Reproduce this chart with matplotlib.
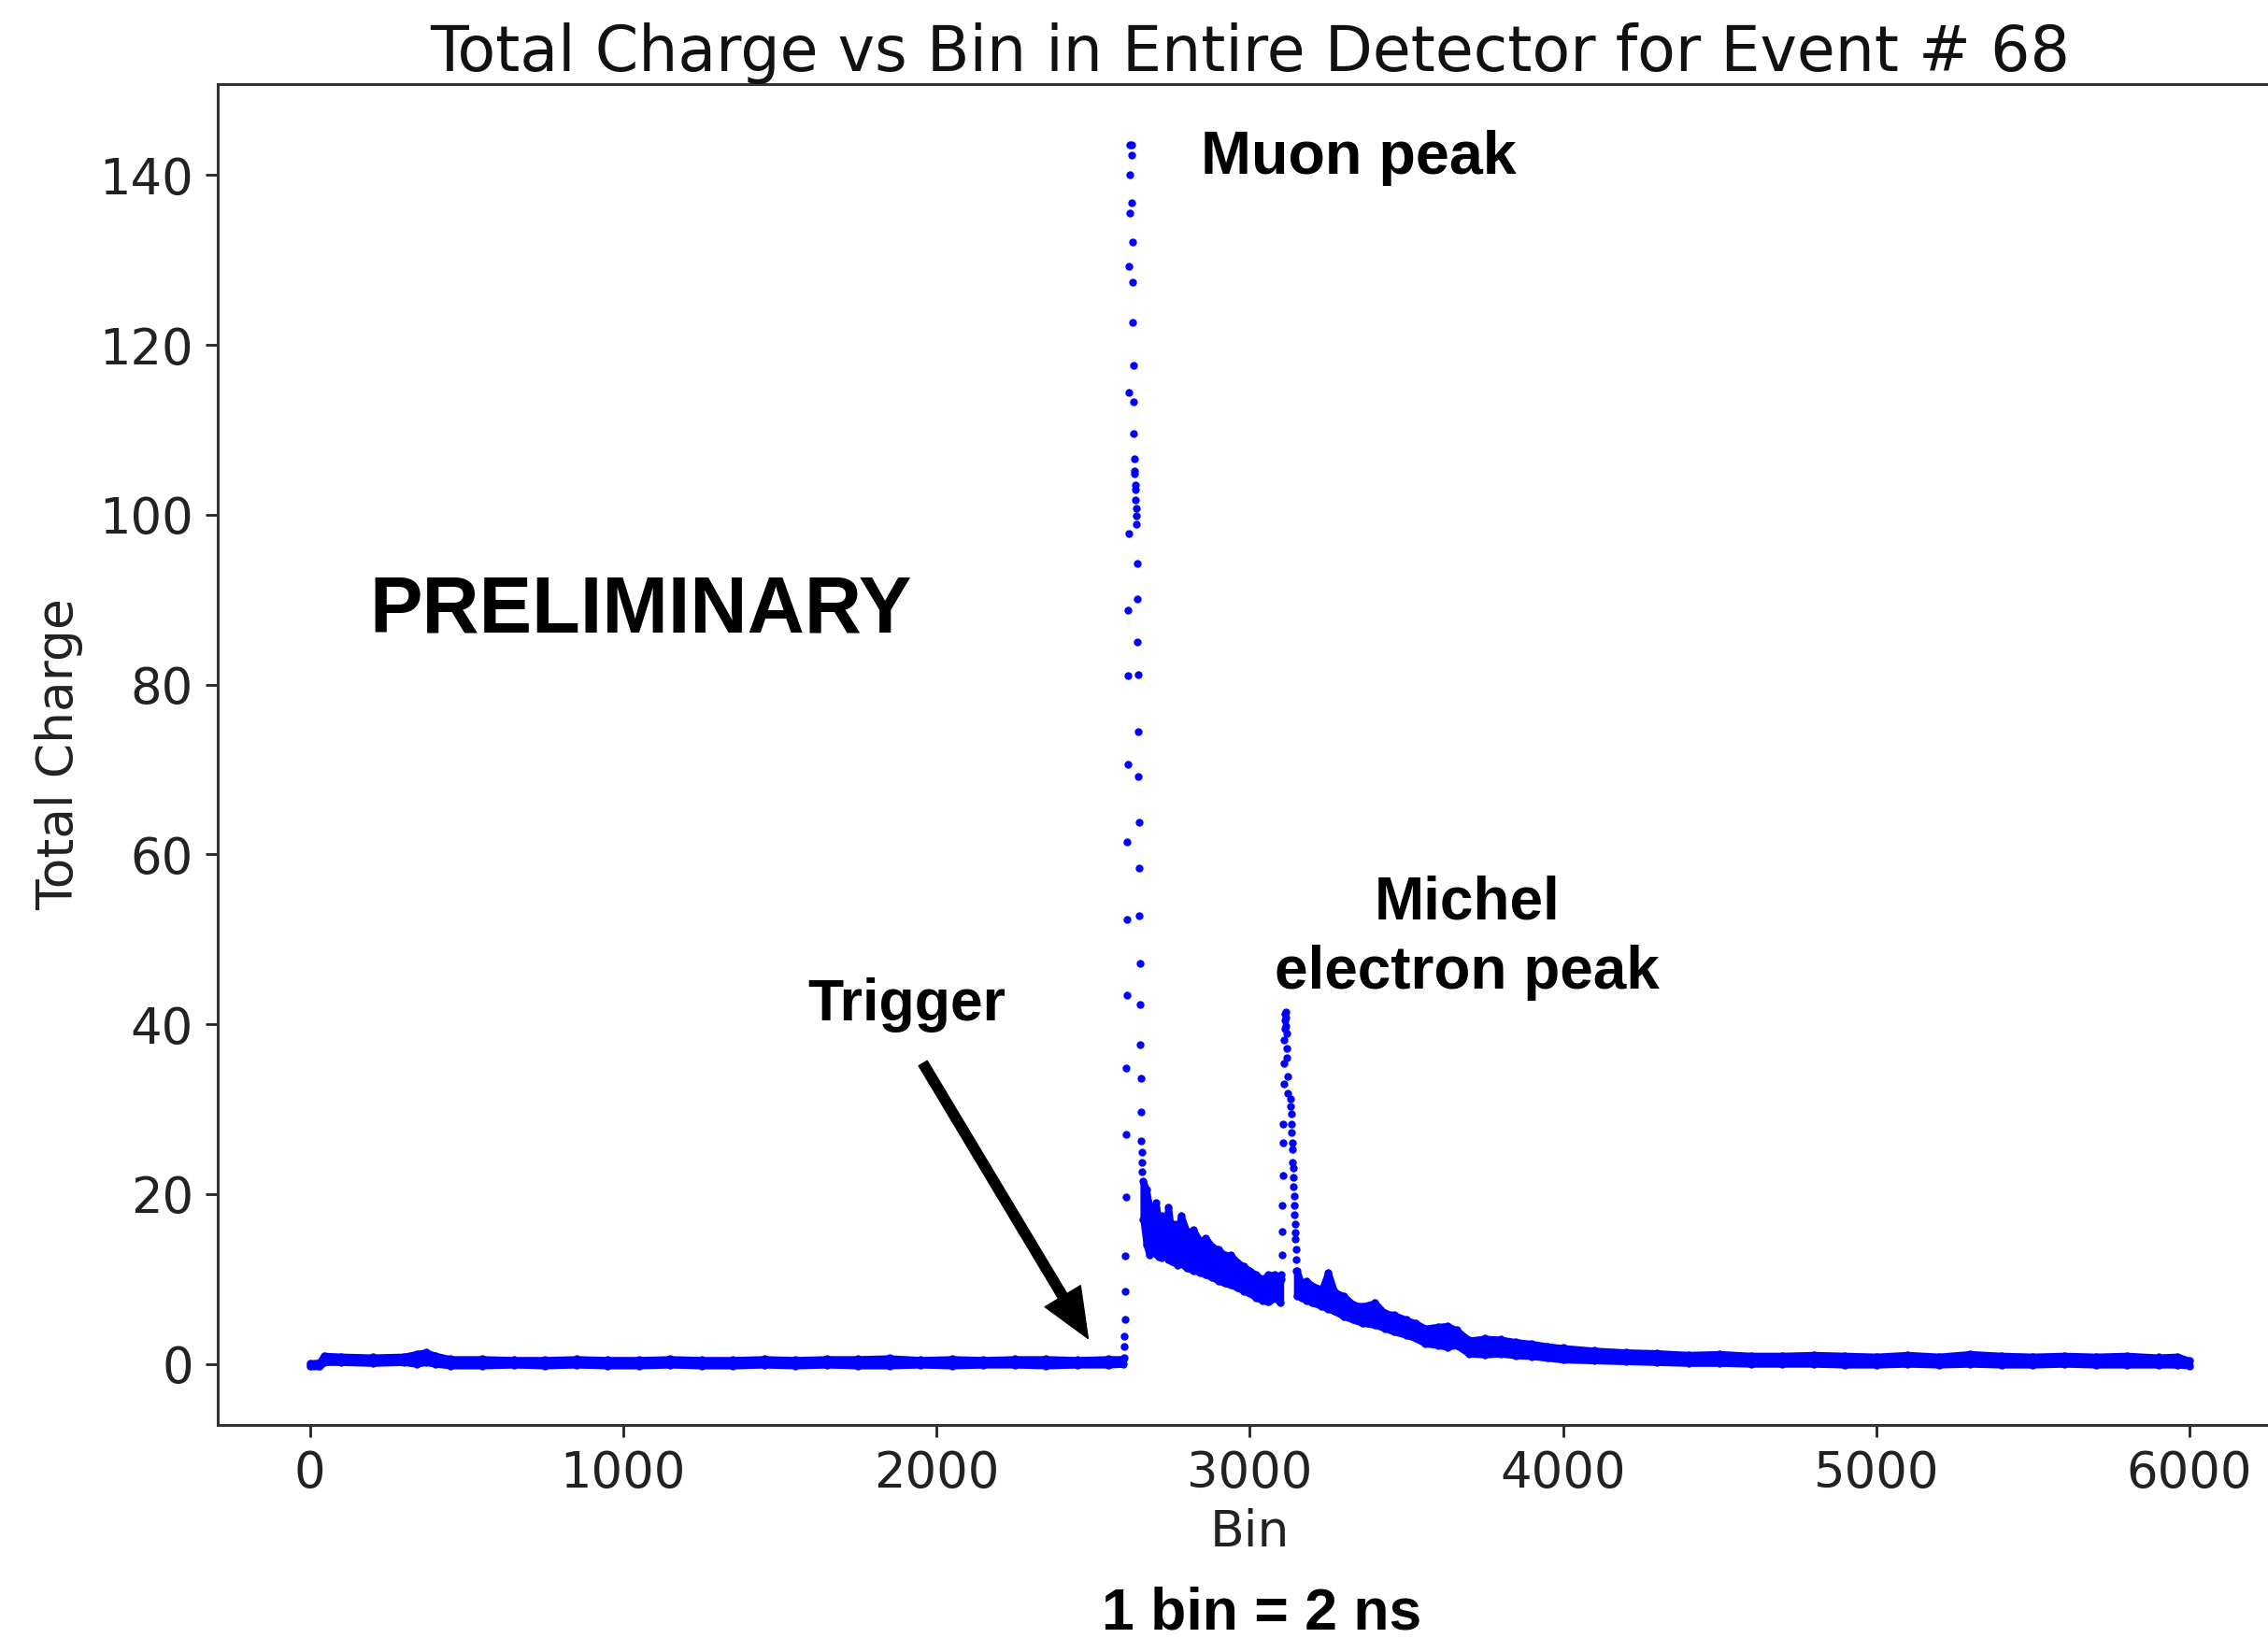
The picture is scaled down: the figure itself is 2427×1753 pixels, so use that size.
import matplotlib.pyplot as plt

# dense part of the trace, read as a band (lower / upper edge) per bin
base_bins = [0, 30, 45, 100, 200, 300, 340, 370, 400, 450, 550, 650, 750, 850, 950, 1050,
             1150, 1250, 1350, 1450, 1550, 1650, 1750, 1850, 1950, 2050, 2150, 2250, 2350,
             2450, 2550, 2597]
base_low = [-0.3, -0.3, 0.2, 0.2, 0.1, 0.2, 0.0, 0.2, 0.0, -0.2, -0.2, -0.1, -0.2, -0.1, -0.2,
            -0.2, -0.1, -0.2, -0.2, -0.1, -0.2, -0.1, -0.2, -0.2, -0.1, -0.2, -0.1, -0.1, -0.2,
            -0.1, -0.1, 0.0]
base_high = [0.1, 0.2, 1.0, 0.9, 0.8, 0.9, 1.2, 1.4, 1.0, 0.6, 0.6, 0.5, 0.5, 0.6, 0.5, 0.5,
             0.6, 0.5, 0.5, 0.6, 0.5, 0.6, 0.6, 0.7, 0.5, 0.6, 0.5, 0.6, 0.6, 0.5, 0.6, 0.6]

muon_tail_bins = [2660, 2670, 2680, 2690, 2700, 2710, 2720, 2730, 2740, 2750, 2760, 2770,
                  2780, 2800, 2820, 2840, 2860, 2880, 2900, 2920, 2940, 2960, 2980, 3000,
                  3020, 3040, 3060, 3080, 3098]
muon_tail_high = [21.5, 20.5, 18.5, 17.2, 19.0, 16.8, 17.5, 16.2, 18.5, 15.6, 16.5, 15.4,
                  17.5, 15.5, 15.8, 14.5, 14.8, 13.8, 13.5, 12.8, 12.8, 12.0, 11.5, 11.0,
                  10.5, 10.0, 10.5, 10.5, 10.0]
muon_tail_low = [17.0, 14.0, 12.8, 13.4, 13.0, 12.6, 12.5, 12.9, 12.3, 12.1, 12.0, 11.6,
                 11.8, 11.3, 11.0, 10.8, 10.5, 10.2, 9.8, 9.5, 9.3, 9.0, 8.6, 8.3, 7.8, 7.5,
                 7.3, 7.8, 7.2]

michel_tail_bins = [3150, 3165, 3180, 3200, 3230, 3250, 3270, 3300, 3330, 3360, 3400, 3430,
                    3460, 3500, 3530, 3560, 3600, 3630, 3660, 3700, 3750, 3800, 3850, 3900,
                    3950, 4000, 4100, 4200, 4300, 4400, 4500, 4600, 4700, 4800, 4900, 5000,
                    5100, 5200, 5300, 5400, 5500, 5600, 5700, 5800, 5900, 5960, 6000]
michel_tail_high = [11.0, 9.5, 9.8, 9.2, 8.8, 10.8, 8.5, 8.0, 7.0, 6.8, 7.2, 6.0, 5.8, 5.2,
                    4.8, 4.2, 4.4, 4.5, 4.0, 2.8, 3.0, 2.9, 2.6, 2.4, 2.1, 1.9, 1.6, 1.4, 1.3,
                    1.1, 1.2, 1.0, 1.0, 1.1, 1.0, 0.9, 1.1, 0.9, 1.2, 1.0, 0.9, 1.0, 0.9, 1.0,
                    0.8, 0.9, 0.4]
michel_tail_low = [8.0, 7.8, 7.5, 7.2, 6.8, 6.5, 6.2, 5.6, 5.2, 4.8, 4.6, 4.2, 3.8, 3.4, 3.0,
                   2.4, 2.2, 2.0, 2.2, 1.2, 1.1, 1.2, 1.0, 0.9, 0.7, 0.5, 0.4, 0.3, 0.2, 0.1,
                   0.1, 0.0, 0.0, 0.0, -0.1, -0.1, 0.0, -0.1, 0.0, -0.1, -0.1, 0.0, -0.1, -0.1,
                   -0.1, -0.1, -0.2]

# single bins on the steep edges, where each dot can be seen
muon_rise_bins = [2598, 2599, 2600, 2601, 2602, 2603, 2604, 2605, 2606, 2607, 2608, 2609,
                  2610, 2611, 2612, 2613, 2614, 2615, 2616, 2617, 2618]
muon_rise_charge = [0.7, 2.1, 3.3, 5.2, 8.5, 12.7, 19.7, 27.0, 34.8, 43.4, 52.3, 61.5, 70.6,
                    81.1, 88.8, 97.8, 114.4, 129.3, 135.5, 140.0, 143.6]
muon_fall_bins = [2622, 2623, 2624, 2625, 2626, 2627, 2628, 2629, 2630, 2631, 2632, 2633,
                  2634, 2635, 2636, 2637, 2638, 2639, 2640, 2641, 2642, 2643, 2644, 2645,
                  2646, 2647, 2648, 2649, 2650, 2651, 2652, 2653, 2654, 2655, 2656, 2657]
muon_fall_charge = [143.6, 142.3, 136.7, 132.1, 127.4, 122.6, 117.6, 113.3, 109.6, 106.6,
                    105.2, 104.8, 103.5, 102.9, 101.7, 100.8, 99.9, 98.9, 94.3, 90.1, 85.0,
                    81.2, 74.5, 69.2, 63.8, 58.4, 52.8, 47.2, 42.3, 37.6, 33.6, 29.7, 26.3,
                    24.9, 23.7, 22.6]
michel_rise_bins = [3100, 3101, 3102, 3103, 3104, 3105, 3106, 3107, 3108, 3109, 3110, 3111,
                    3112, 3113, 3114]
michel_rise_charge = [10.0, 10.5, 12.8, 15.6, 18.7, 22.2, 26.0, 28.3, 33.0, 35.4, 38.2, 39.5,
                      40.5, 41.2, 41.5]
michel_fall_bins = [3115, 3116, 3117, 3118, 3119, 3120, 3121, 3130, 3131, 3132, 3133, 3134,
                    3135, 3136, 3137, 3138, 3139, 3140, 3141, 3142, 3143, 3144, 3145, 3146,
                    3147, 3148, 3149]
michel_fall_charge = [40.8, 39.8, 38.9, 37.2, 36.1, 33.9, 31.9, 31.2, 30.3, 29.5, 28.3, 27.3,
                      26.0, 25.3, 23.7, 23.1, 22.0, 20.9, 19.8, 18.7, 17.6, 16.5, 15.5, 14.7,
                      13.5, 12.3, 11.0]

blue = "#0000ff"
bold = dict(family="Liberation Sans", weight="bold", color="black")

fig = plt.figure(figsize=(24.27, 17.53), dpi=100)
# right spine sits just past the picture edge, like the cropped original
ax = fig.add_axes([232.7 / 2427, 1 - 1525 / 1753, (2442 - 232.7) / 2427, (1525 - 90) / 1753])

for b, lo, hi in [(base_bins, base_low, base_high),
                  (muon_tail_bins, muon_tail_low, muon_tail_high),
                  (michel_tail_bins, michel_tail_low, michel_tail_high)]:
    ax.fill_between(b, lo, hi, color=blue, linewidth=5, edgecolor=blue)
    ax.plot(b, hi, "o", color=blue, markersize=6, markeredgewidth=0)
    ax.plot(b, lo, "o", color=blue, markersize=6, markeredgewidth=0)

for b, q in [(muon_rise_bins, muon_rise_charge), (muon_fall_bins, muon_fall_charge),
             (michel_rise_bins, michel_rise_charge), (michel_fall_bins, michel_fall_charge)]:
    ax.plot(b, q, "o", color=blue, markersize=6, markeredgewidth=0)

ax.set_xlim(-295, 6295)
ax.set_ylim(-7.18, 150.7)
ax.set_xticks(range(0, 6001, 1000))
ax.set_yticks(range(0, 141, 20))
ax.tick_params(labelsize=38, length=9.5, width=2, pad=9, colors="#222222")
for s in ax.spines.values():
    s.set_linewidth(2.2)
    s.set_color("#333333")

ax.set_title("Total Charge vs Bin in Entire Detector for Event # 68", fontsize=48, pad=7,
             color="#111111")
ax.set_xlabel("Bin", fontsize=38.5, labelpad=8, color="#222222")
ax.set_ylabel("Total Charge", fontsize=38.5, labelpad=12, color="#222222")

ax.text(2845, 140.1, "Muon peak", fontsize=46.5, va="baseline", ha="left", **bold)
ax.text(189, 86.2, "PRELIMINARY", fontsize=61, va="baseline", ha="left", **bold)
ax.text(1589, 40.5, "Trigger", fontsize=45, va="baseline", ha="left", **bold)
ax.text(3693, 52.4, "Michel", fontsize=46, va="baseline", ha="center", **bold)
ax.text(3693, 44.2, "electron peak", fontsize=46, va="baseline", ha="center", **bold)

ax.annotate("", xy=(2484, 3.0), xytext=(1957, 35.4),
            arrowprops=dict(arrowstyle="simple,head_width=1.6,head_length=1.9,tail_width=0.38",
                            color="black", mutation_scale=20, shrinkA=0, shrinkB=0))

fig.text(1350 / 2427, 1 - 1744 / 1753, "1 bin = 2 ns", fontsize=45, va="baseline",
         ha="center", **bold)

fig.savefig("out.png", dpi=100)
plt.close(fig)
